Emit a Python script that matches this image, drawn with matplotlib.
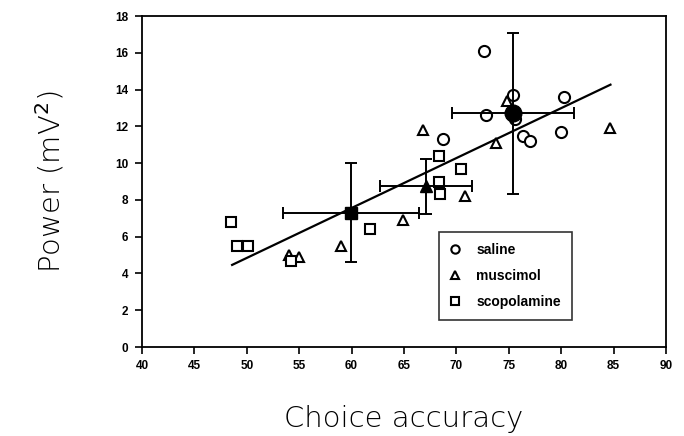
import matplotlib.pyplot as plt
import numpy as np

# individual animals
saline_x = [72.6, 75.4, 80.3, 72.8, 75.6, 68.7, 76.4, 77.0, 80.0]
saline_y = [16.1, 13.7, 13.6, 12.6, 12.4, 11.3, 11.5, 11.2, 11.7]
muscimol_x = [74.8, 66.8, 73.8, 84.7, 70.8, 64.9, 54.0, 55.0, 59.0]
muscimol_y = [13.4, 11.8, 11.1, 11.9, 8.2, 6.9, 5.0, 4.9, 5.5]
scop_x = [68.3, 70.4, 68.3, 68.4, 61.8, 48.5, 49.1, 50.1, 54.2]
scop_y = [10.4, 9.7, 9.0, 8.3, 6.4, 6.8, 5.5, 5.5, 4.7]

# group means with SD
mean_x = [75.4, 67.1, 59.95]
mean_y = [12.7, 8.75, 7.3]
err_x = [5.8, 4.4, 6.45]
err_y = [4.4, 1.5, 2.7]
mean_markers = ['o', '^', 's']
mean_sizes = [12, 9, 9]

# regression line
fit_slope = 0.2715
fit_intercept = -8.73
fit_range = [48.6, 84.7]

fig = plt.figure(figsize=(6.84, 4.36), dpi=100)
ax = fig.add_axes([0.2076, 0.2041, 0.7661, 0.7592])

fx = np.array(fit_range)
ax.plot(fx, fit_slope * fx + fit_intercept, color='black', lw=1.6, zorder=2)

ax.plot(saline_x, saline_y, 'o', ms=8, mfc='white', mec='black', mew=1.5,
        label='saline', zorder=3)
ax.plot(muscimol_x, muscimol_y, '^', ms=7, mfc='white', mec='black', mew=1.5,
        label='muscimol', zorder=3)
ax.plot(scop_x, scop_y, 's', ms=6.5, mfc='white', mec='black', mew=1.5,
        label='scopolamine', zorder=3)

for i in range(len(mean_x)):
    ax.errorbar(mean_x[i], mean_y[i], xerr=err_x[i], yerr=err_y[i],
                fmt=mean_markers[i], ms=mean_sizes[i], color='black',
                ecolor='black', elinewidth=1.4, capsize=4, capthick=1.4,
                zorder=4)

ax.set_xlim(40, 90)
ax.set_ylim(0, 18)
ax.set_xticks(np.arange(40, 91, 5))
ax.set_yticks(np.arange(0, 19, 2))
for s in ax.spines.values():
    s.set_linewidth(1.3)
ax.tick_params(direction='out', length=5, width=1.2)
ax.tick_params(axis='y', pad=5)
ax.tick_params(axis='x', pad=4)
for lab in ax.get_xticklabels() + ax.get_yticklabels():
    lab.set_fontfamily('Liberation Sans')
    lab.set_fontweight('bold')
    lab.set_fontsize(8.5)

ax.set_xlabel('Choice accuracy', fontsize=21, fontfamily='DejaVu Sans',
              fontweight='light', color='black', labelpad=24)
ax.set_ylabel('Power (mV$^2$)', fontsize=21, fontfamily='DejaVu Sans',
              fontweight='light', color='black', labelpad=35)

leg = ax.legend(loc='lower right', bbox_to_anchor=(0.8206, 0.0816),
                frameon=True, fancybox=False, handlelength=0.8,
                handletextpad=1.1, borderpad=0.8, labelspacing=0.85,
                borderaxespad=0,
                prop={'family': 'Liberation Sans', 'weight': 'bold', 'size': 10})
leg.get_frame().set_edgecolor('black')
leg.get_frame().set_linewidth(1.2)
for h in leg.legend_handles:
    h.set_markersize(6)
    h.set_markeredgewidth(1.5)

fig.savefig('out.png', dpi=100)
